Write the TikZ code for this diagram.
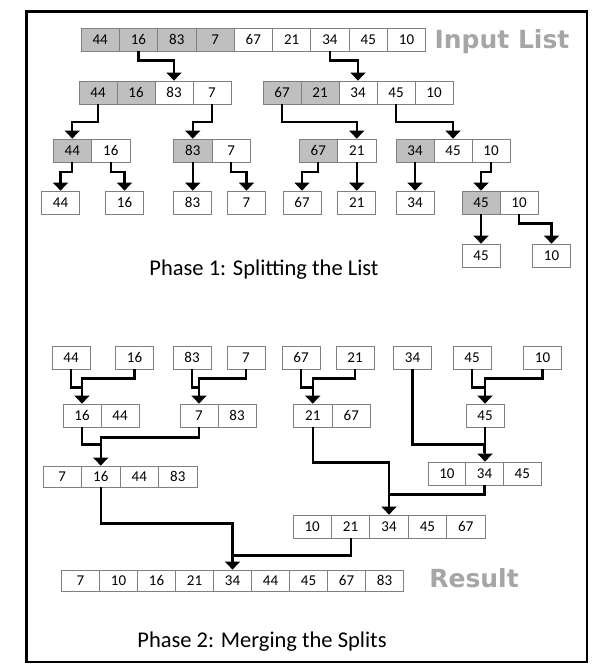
\documentclass[tikz,border=0pt]{standalone}
\usepackage{fontspec}
\setmainfont{Carlito}
\newfontfamily\titlefont{DejaVu Sans}
\usetikzlibrary{arrows.meta}
\definecolor{cellgray}{HTML}{BFBFBF}
\definecolor{cellline}{HTML}{7F7F7F}
\definecolor{titlegray}{HTML}{A6A6A6}
\tikzset{
 cell/.style={draw=cellline, line width=0.8pt, inner sep=0pt, font=\fontsize{15}{15}\selectfont},
 cg/.style={fill=cellgray}, cw/.style={fill=white},
 arr/.style={line width=2.2pt, -{Triangle[width=15pt,length=8pt]}},
 lnk/.style={line width=2.2pt, shorten >=9pt},
 bigtitle/.style={font=\titlefont\bfseries\fontsize{25}{25}\selectfont, text=titlegray, anchor=base, inner sep=0pt},
 phase/.style={font=\fontsize{22.5}{22.5}\selectfont, anchor=base, inner sep=0pt},
 frame/.style={line width=2.8pt},
}
% name, x0, ytop, cell width, cell height, list value/style
\newcommand\crow[6]{%
 \foreach \val/\sty [count=\i] in {#6}{%
  \node[cell,\sty,minimum width=#4pt,minimum height=#5pt] (#1-\i) at ({(#2+(\i-0.5)*#4)*1pt},{-(#3+#5/2)*1pt}) {\val};
 }}
\begin{document}
\begin{tikzpicture}[x=1pt,y=1pt]
\useasboundingbox (0,0) rectangle (601,-670);
\fill[white] (0,0) rectangle (601,-670);
\draw[frame] (26.5,-11.5) rectangle (587,-662);

% ---------- Phase 1 ----------
\crow{r0}{81}{28}{38.3}{23}{44/cg,16/cg,83/cg,7/cg,67/cw,21/cw,34/cw,45/cw,10/cw}
\node[bigtitle] (inlist) at (502,-48) {Input List};

\crow{r1l}{79}{81}{38}{23}{44/cg,16/cg,83/cw,7/cw}
\crow{r1r}{263}{81}{38}{23}{67/cg,21/cg,34/cw,45/cw,10/cw}

\crow{r2a}{53}{139}{38.5}{23}{44/cg,16/cw}
\crow{r2b}{173.5}{139}{38.5}{23}{83/cg,7/cw}
\crow{r2c}{299}{139}{38.5}{23}{67/cg,21/cw}
\crow{r2d}{396}{139}{38}{23}{34/cg,45/cw,10/cw}

\crow{s44}{41.5}{191}{38}{23}{44/cw}
\crow{s16}{105.5}{191}{38}{23}{16/cw}
\crow{s83}{173.5}{191}{38}{23}{83/cw}
\crow{s7}{227.5}{191}{38}{23}{7/cw}
\crow{s67}{283}{191}{38}{23}{67/cw}
\crow{s21}{337.75}{191}{38}{23}{21/cw}
\crow{s34}{396}{191}{38}{23}{34/cw}
\crow{r3e}{462}{191}{38}{23}{45/cg,10/cw}

\crow{s45}{462}{244}{38}{23}{45/cw}
\crow{s10}{532.5}{244}{38}{23}{10/cw}

\node[phase] (ph1) at (264,-275) {Phase 1: Splitting the List};

\draw[arr] (r0-2.south) -- ++(0,-9) -| (r1l-3.north);
\draw[arr] (r0-7.south) -- ++(0,-9) -| (r1r-3.north);
\draw[arr] (r1l-1.south) -- ++(0,-17.5) -| (r2a-1.north);
\draw[arr] (r1l-4.south) -- ++(0,-17.5) -| (r2b-1.north);
\draw[arr] (r1r-1.south) -- ++(0,-17.5) -| (r2c-2.north);
\draw[arr] (r1r-4.south) -- ++(0,-17.5) -| (r2d-2.north);

\draw[arr] (r2a-1.south) -- ++(0,-9.5) -| (s44-1.north);
\draw[arr] (r2a-2.south) -- ++(0,-9.5) -| (s16-1.north);
\draw[arr] (r2b-1.south) -- (r2b-1.south |- s83-1.north);
\draw[arr] (r2b-2.south) -- ++(0,-9.5) -| (s7-1.north);
\draw[arr] (r2c-1.south) -- ++(0,-9.5) -| (s67-1.north);
\draw[arr] (r2c-2.south) -- (r2c-2.south |- s21-1.north);
\draw[arr] (r2d-1.south) -- (s34-1.north);
\draw[arr] (r2d-3.south) -- ++(0,-9.5) -| (r3e-1.north);

\draw[arr] (r3e-1.south) -- (r3e-1.south |- s45-1.north);
\draw[arr] (r3e-2.south) -- ++(0,-9) -| (s10-1.north);

% ---------- Phase 2 ----------
\crow{p44}{52}{346}{38}{23}{44/cw}
\crow{p16}{115.5}{346}{38}{23}{16/cw}
\crow{p83}{173}{346}{38}{23}{83/cw}
\crow{p7}{227}{346}{38}{23}{7/cw}
\crow{p67}{282}{346}{38}{23}{67/cw}
\crow{p21}{336}{346}{38}{23}{21/cw}
\crow{p34}{393.5}{346}{38}{23}{34/cw}
\crow{p45}{453}{346}{38}{23}{45/cw}
\crow{p10}{523.5}{346}{38}{23}{10/cw}

\crow{q1a}{63}{404}{38}{23}{16/cw,44/cw}
\crow{q1b}{180}{404}{38}{23}{7/cw,83/cw}
\crow{q1c}{293.5}{404}{38.5}{23}{21/cw,67/cw}
\crow{q1d}{466}{404}{38}{23}{45/cw}

\crow{q2a}{43}{466}{38.5}{21}{7/cw,16/cw,44/cw,83/cw}
\crow{q2d}{428}{462}{37.7}{23}{10/cw,34/cw,45/cw}

\crow{q3}{293}{515}{38.4}{23}{10/cw,21/cw,34/cw,45/cw,67/cw}

\crow{q4}{61.5}{570}{38}{21}{7/cw,10/cw,16/cw,21/cw,34/cw,44/cw,45/cw,67/cw,83/cw}
\node[bigtitle] (result) at (474,-587) {Result};

\node[phase] (ph2) at (262,-647) {Phase 2: Merging the Splits};

\draw[lnk] (p16-1.south) -- ++(0,-9) -| (q1a-1.north);
\draw[arr] (p44-1.south) -- ++(0,-18) -| (q1a-1.north);
\draw[lnk] (p7-1.south) -- ++(0,-9) -| (q1b-1.north);
\draw[arr] (p83-1.south) -- ++(0,-18) -| (q1b-1.north);
\draw[lnk] (p21-1.south) -- ++(0,-9) -| (q1c-1.north);
\draw[arr] (p67-1.south) -- ++(0,-18) -| (q1c-1.north);
\draw[lnk] (p10-1.south) -- ++(0,-9) -| (q1d-1.north);
\draw[arr] (p45-1.south) -- ++(0,-18) -| (q1d-1.north);

\draw[lnk] (q1b-1.south) -- ++(0,-10) -| (q2a-2.north);
\draw[arr] (q1a-1.south) -- ++(0,-17) -| (q2a-2.north);
\draw[lnk] (p34-1.south) -- ++(0,-75) -| (q2d-2.north);
\draw[arr] (q1d-1.south) -- (q1d-1.south |- q2d-2.north);

\draw[lnk] (q2d-2.south) -- ++(0,-9) -| (q3-3.north);
\draw[arr] (q1c-1.south) -- ++(0,-35) -| (q3-3.north);

\draw[lnk] (q3-2.south) -- ++(0,-17) -| (q4-5.north);
\draw[arr] (q2a-2.south) -- ++(0,-36) -| (q4-5.north);
\end{tikzpicture}
\end{document}
